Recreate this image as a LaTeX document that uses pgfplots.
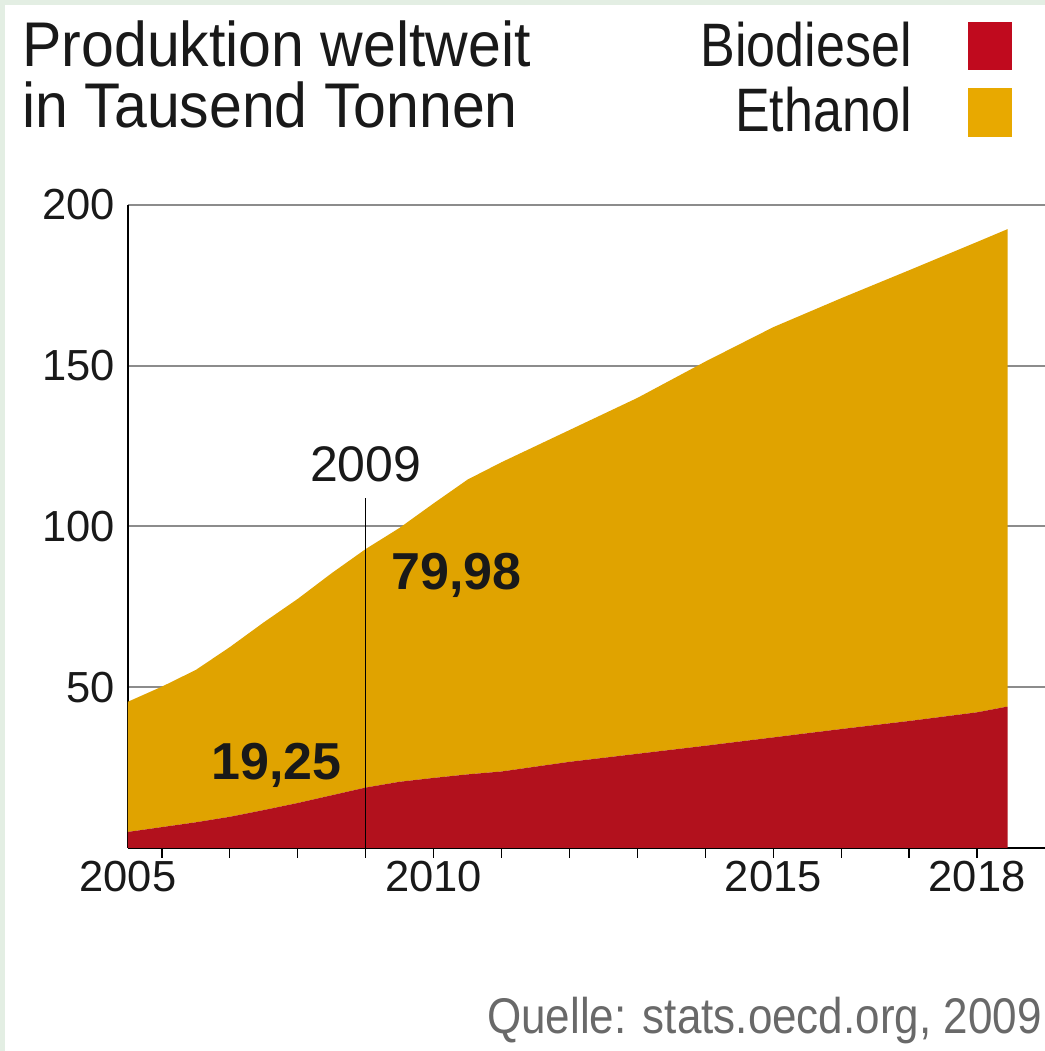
\documentclass[border=0pt]{standalone}
\usepackage{fontspec}
\setmainfont{Liberation Sans}
\usepackage{pgfplots}
\pgfplotsset{compat=1.18}
\definecolor{bio}{RGB}{178,17,29}
\definecolor{eth}{RGB}{224,163,0}
\definecolor{biolg}{RGB}{192,10,30}
\definecolor{ethlg}{RGB}{232,169,0}
\definecolor{gridc}{RGB}{140,140,140}
\definecolor{framec}{RGB}{227,238,227}
\definecolor{srcc}{RGB}{105,105,105}
\definecolor{txt}{RGB}{25,25,25}
\begin{document}
\begin{tikzpicture}
\useasboundingbox (0,0) rectangle (522.5pt,525.5pt);
\fill[white] (0,0) rectangle (522.5pt,525.5pt);
\fill[framec] (0,0) rectangle (2.5pt,525.5pt);
\fill[framec] (0,523pt) rectangle (522.5pt,525.5pt);
\begin{axis}[
  at={(64pt,101.5pt)}, anchor=south west,
  scale only axis, width=458.5pt, height=321.5pt,
  xmin=2005.5, xmax=2019, ymin=0, ymax=200,
  axis x line*=bottom, axis y line*=left,
  axis line style={black, line width=0.8pt, -},
  stack plots=y,
  xtick={2005.5,2010,2015,2018},
  xticklabels={2005,2010,2015,2018},
  minor xtick={2006,2007,...,2018},
  ytick={50,100,150,200},
  ymajorgrids, major grid style={gridc, line width=1pt},
  major tick length=0pt, minor tick length=5pt,
  tick align=outside,
  minor tick style={black, line width=0.6pt},
  tick label style={font=\fontsize{21.75}{22}\selectfont, text=txt},
  /pgf/number format/assume math mode=true,
  xticklabel style={yshift=-3pt},
  yticklabel style={xshift=-3pt},
]
\addplot[fill=bio, draw=none] coordinates {
(2005.5,5.0) (2006,6.5) (2006.5,8.0) (2007,9.7) (2007.5,11.8) (2008,14.0)
(2008.5,16.4) (2009,18.8) (2009.5,20.6) (2010,21.8) (2010.5,22.9) (2011,23.8)
(2012,26.8) (2013,29.3) (2014,31.8) (2015,34.4) (2016,37.0) (2017,39.5)
(2018,42.2) (2018.45,44.0)
} \closedcycle;
\addplot[fill=eth, draw=none] coordinates {
(2005.5,40.5) (2006,43.7) (2006.5,47.4) (2007,52.8) (2007.5,58.4) (2008,63.5)
(2008.5,69.1) (2009,74.2) (2009.5,79.0) (2010,85.4) (2010.5,91.7) (2011,96.2)
(2012,103.2) (2013,110.7) (2014,119.5) (2015,127.6) (2016,134.0) (2017,140.2)
(2018,146.3) (2018.45,148.5)
} \closedcycle;
\coordinate (lineB) at (axis cs:2009,0);
\coordinate (lineT) at (axis cs:2009,108.9);
\coordinate (lab09) at (axis cs:2009,113.9);
\coordinate (labEth) at (axis cs:2009.37,80.3);
\coordinate (labBio) at (axis cs:2006.72,21.2);
\end{axis}
\draw[black, line width=0.7pt] (lineB) -- (lineT);
\node[anchor=base, inner sep=0, text=txt, font=\fontsize{25}{25}\selectfont] at (lab09) {2009};
\node[anchor=base west, inner sep=0, text=txt, font=\bfseries\fontsize{26}{26}\selectfont] at (labEth) {79,98};
\node[anchor=base west, inner sep=0, text=txt, font=\bfseries\fontsize{26}{26}\selectfont] at (labBio) {19,25};
% title
\node[anchor=base west, inner sep=0, text=txt, font=\fontsize{29.5}{30}\selectfont] at (11pt,492pt) {\scalebox{1}[1.07]{Produktion weltweit}};
\node[anchor=base west, inner sep=0, text=txt, font=\fontsize{29.5}{30}\selectfont] at (11pt,461.5pt) {\scalebox{1}[1.07]{in Tausend Tonnen}};
% legend
\node[anchor=base east, inner sep=0, text=txt, font=\fontsize{26}{26}\selectfont] at (456pt,492pt) {\scalebox{1}[1.18]{Biodiesel}};
\node[anchor=base east, inner sep=0, text=txt, font=\fontsize{26}{26}\selectfont] at (456pt,459.5pt) {\scalebox{1}[1.18]{Ethanol}};
\fill[biolg] (484pt,490.5pt) rectangle (506pt,514.5pt);
\fill[ethlg] (484pt,457pt) rectangle (506pt,481.5pt);
% source
\node[anchor=base east, inner sep=0, text=srcc, font=\fontsize{22}{22}\selectfont] at (521pt,9pt) {\scalebox{1}[1.14]{Quelle: stats.oecd.org, 2009}};
\end{tikzpicture}
\end{document}
